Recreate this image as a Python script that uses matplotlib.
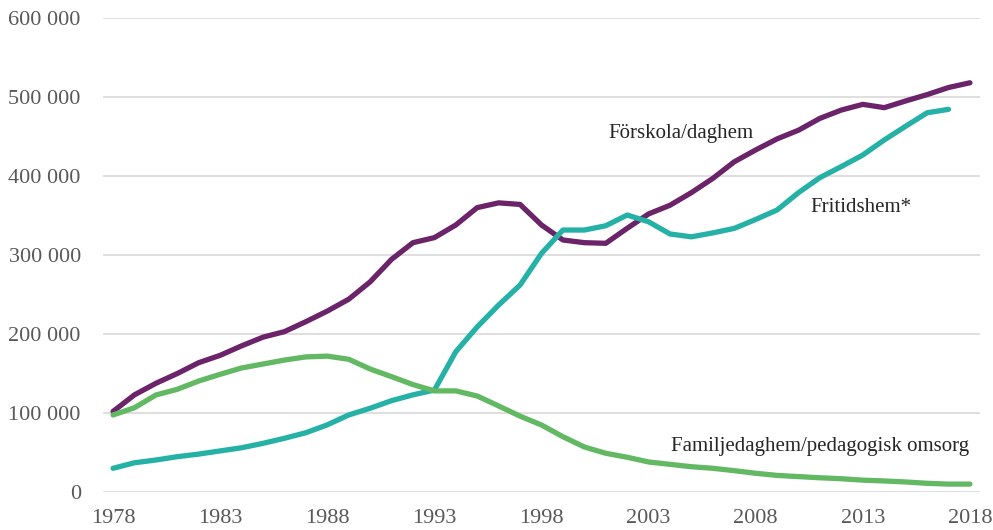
import numpy as np
import matplotlib
matplotlib.use('Agg')
import matplotlib.pyplot as plt
from matplotlib.ticker import FuncFormatter

years = list(range(1978, 2019))

forskola = [102000, 123000, 137600, 150000, 163700, 173000, 185000, 196000, 203000, 215600,
            229000, 244000, 266000, 294500, 315600, 322000, 338000, 360000, 366000, 364000,
            338000, 319000, 315600, 314800, 333800, 352000, 363000, 379000, 397000, 418000,
            433000, 447000, 458000, 473000, 483500, 490700, 486500, 495000, 503000, 512000,
            518000]

fritidshem = [30000, 37000, 40500, 44700, 48000, 52000, 56000, 61600, 68000, 75000,
              85000, 97500, 106000, 115600, 123000, 129000, 177600, 209000, 236700, 262000,
              302000, 331600, 331600, 337000, 350600, 342000, 326600, 323000, 328000, 333700,
              345000, 357000, 379000, 398000, 412000, 426600, 445600, 463000, 480000, 484400,
              np.nan]

familjedaghem = [97500, 106700, 122800, 130000, 140500, 149000, 157000, 162000, 167000, 171000,
                 172000, 168000, 155700, 146000, 136000, 128000, 128000, 121500, 108900, 96000,
                 84800, 70000, 57000, 49000, 44000, 38000, 35000, 32000, 30000, 27000,
                 23700, 21000, 19500, 18000, 16800, 15000, 14000, 12700, 11000, 10000,
                 10000]

plt.rcParams['font.family'] = ['Liberation Serif', 'DejaVu Serif']

W, H = 993, 530
fig = plt.figure(figsize=(W / 100, H / 100), dpi=100)
ax = fig.add_axes([103 / W, 1 - 492 / H, 877 / W, 474 / H])

ax.plot(years, forskola, color='#6B2469', lw=3.8, solid_capstyle='round')
ax.plot(years, fritidshem, color='#25B1A6', lw=3.8, solid_capstyle='round')
ax.plot(years, familjedaghem, color='#63B863', lw=3.8, solid_capstyle='round')

# series labels, placed in pixel positions of the reference
labels = [('Förskola/daghem', 681, 133),
          ('Fritidshem*', 861, 207),
          ('Familjedaghem/pedagogisk omsorg', 820, 446)]
for txt, px, py in labels:
    fig.text(px / W, 1 - py / H, txt, fontsize=15, color='#262626', ha='center', va='center')

ax.set_xlim(1977.53, 2018.47)
ax.set_ylim(0, 600000)
ax.set_xticks(range(1978, 2019, 5))
ax.set_yticks(range(0, 600001, 100000))
ax.yaxis.set_major_formatter(FuncFormatter(lambda v, p: f'{int(v):,}'.replace(',', ' ')))
ax.grid(axis='y', color='#d9d9d9', lw=1.2)
ax.set_axisbelow(True)
for s in ax.spines.values():
    s.set_visible(False)
ax.tick_params(length=0, labelsize=16, labelcolor='#595959')
ax.tick_params(axis='y', pad=16)
ax.tick_params(axis='x', pad=12)

fig.savefig('out.png', dpi=100)
